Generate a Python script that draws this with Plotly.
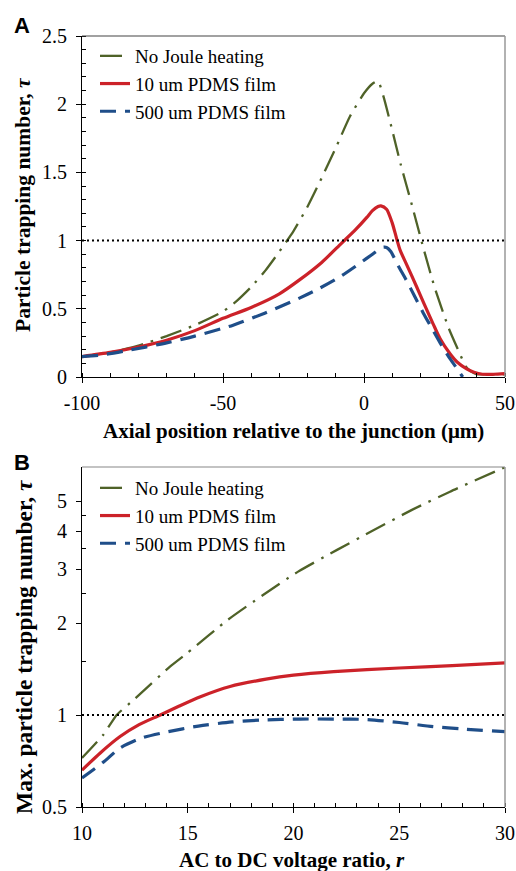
import plotly.graph_objects as go

# ---------------- Panel A data ----------------
a_green_x = [-100, -90, -80, -70, -60, -50, -45, -40, -35, -30, -25, -20, -15, -10, -5, 0, 3, 5, 7, 10, 13, 17, 21, 25, 30, 34, 36, 38, 40, 45, 50]
a_green_y = [0.15, 0.18, 0.23, 0.30, 0.38, 0.48, 0.56, 0.66, 0.78, 0.92, 1.07, 1.25, 1.46, 1.68, 1.91, 2.08, 2.15, 2.17, 2.05, 1.81, 1.56, 1.26, 0.95, 0.66, 0.36, 0.17, 0.08, 0.04, 0.02, 0.02, 0.02]

a_red_x = [-100, -90, -80, -70, -60, -50, -40, -30, -23, -15, -8, -3, 1, 3, 5, 6, 8, 10, 11.5, 12.8, 15, 18.7, 21, 24.5, 27, 30.5, 33, 36.4, 39, 42, 46, 50]
a_red_y = [0.15, 0.18, 0.22, 0.27, 0.34, 0.43, 0.51, 0.61, 0.71, 0.84, 0.98, 1.08, 1.17, 1.22, 1.25, 1.255, 1.23, 1.13, 1.02, 0.93, 0.83, 0.66, 0.55, 0.39, 0.28, 0.17, 0.11, 0.06, 0.035, 0.02, 0.02, 0.025]

a_blue_x = [-100, -93.6, -85, -70, -60, -46.4, -35, -22.7, -16.7, -8.5, -1.4, 3, 6.5, 8, 9.5, 12, 15, 18, 21, 24, 27, 30, 33.4, 35]
a_blue_y = [0.15, 0.16, 0.19, 0.25, 0.30, 0.38, 0.47, 0.58, 0.64, 0.735, 0.835, 0.90, 0.95, 0.95, 0.92, 0.82, 0.71, 0.59, 0.47, 0.36, 0.25, 0.15, 0.05, 0.0]

a_xticks = [-100, -50, 0, 50]
a_xticklabels = ["-100", "-50", "0", "50"]
a_yticks = [0, 0.5, 1, 1.5, 2, 2.5]
a_yticklabels = ["0", "0.5", "1", "1.5", "2", "2.5"]

# ---------------- Panel B data ----------------
b_green_x = [10, 11, 11.64, 12.5, 14.16, 15, 16.9, 18.56, 20.2, 22.06, 23.8, 25.6, 27.4, 30]
b_green_y = [0.723, 0.86, 1.0, 1.13, 1.44, 1.6, 2.05, 2.47, 2.94, 3.47, 4.03, 4.69, 5.38, 6.47]

b_red_x = [10, 10.85, 11.8, 12.7, 13.7, 14.6, 15.6, 17, 18.7, 20, 21.9, 25, 27.5, 30]
b_red_y = [0.66, 0.75, 0.85, 0.93, 1.0, 1.07, 1.148, 1.24, 1.31, 1.35, 1.386, 1.425, 1.45, 1.48]

b_blue_x = [10, 11, 11.8, 12.8, 14, 15.5, 17.1, 18.5, 20.3, 22, 23.4, 25, 26.6, 28, 30]
b_blue_y = [0.622, 0.70, 0.78, 0.84, 0.88, 0.92, 0.949, 0.963, 0.97, 0.97, 0.967, 0.945, 0.916, 0.90, 0.882]

b_xticks = [10, 15, 20, 25, 30]
b_yticks = [0.5, 1, 2, 3, 4, 5]
b_yticklabels = ["0.5", "1", "2", "3", "4", "5"]
b_yminor = [1.5, 2.5, 3.5, 4.5]

names = ["No Joule heating", "10 um PDMS film", "500 um PDMS film"]

GREEN = "#4f6228"
RED = "#cc2229"
BLUE = "#1f4e89"
SERIF = "Liberation Serif"

fig = go.Figure()

styles = [
    dict(color=GREEN, width=2.3, dash="22px,8px,2.5px,8px", shape="spline", smoothing=0.5),
    dict(color=RED, width=3.2, dash="solid", shape="spline", smoothing=0.7),
    dict(color=BLUE, width=3.2, dash="16px,9px", shape="spline", smoothing=0.7),
]

for (xs, ys), st, nm, g in zip([(a_green_x, a_green_y), (a_red_x, a_red_y), (a_blue_x, a_blue_y)], styles, names, ["a1", "a2", "a3"]):
    fig.add_trace(go.Scatter(x=xs, y=ys, mode="lines", name=nm, line=st,
                             xaxis="x", yaxis="y", legend="legend", legendgroup=g))

for (xs, ys), st, nm, g in zip([(b_green_x, b_green_y), (b_red_x, b_red_y), (b_blue_x, b_blue_y)], styles, names, ["b1", "b2", "b3"]):
    fig.add_trace(go.Scatter(x=xs, y=ys, mode="lines", name=nm, line=st,
                             xaxis="x2", yaxis="y2", legend="legend2", legendgroup=g))

# plot area pixel geometry: x 82..505, panel A y 36..377, panel B y 467..807
W, H = 516, 871
L, R, T, B = 82, 11, 36, 64
ph = H - T - B


def py(p):
    return (H - B - p) / ph


def px(p):
    return (p - L) / (W - L - R)


tickfont = dict(family=SERIF, size=20, color="black")
common_axis = dict(showline=True, linecolor="black", linewidth=1.2, showgrid=False, zeroline=False,
                   ticks="outside", ticklen=5, tickcolor="black", tickwidth=1.2, tickfont=tickfont,
                   automargin=False)

fig.update_layout(
    width=W, height=H,
    margin=dict(l=L, r=R, t=T, b=B, autoexpand=False),
    paper_bgcolor="white", plot_bgcolor="white",
    font=dict(family=SERIF, size=19, color="black"),
    xaxis=dict(common_axis, domain=[0, 1], anchor="y", range=[-100, 50], ticklabelstandoff=3,
               tickmode="array", tickvals=a_xticks, ticktext=a_xticklabels,
               minor=dict(dtick=10, tick0=0, ticks="inside", ticklen=4, tickcolor="black", tickwidth=1)),
    yaxis=dict(common_axis, domain=[py(377), 1], anchor="x", range=[0, 2.5], ticklabelstandoff=5,
               tickmode="array", tickvals=a_yticks, ticktext=a_yticklabels,
               minor=dict(dtick=0.1, tick0=0, ticks="inside", ticklen=4, tickcolor="black", tickwidth=1)),
    xaxis2=dict(common_axis, domain=[0, 1], anchor="y2", range=[10, 30], ticklabelstandoff=3,
                tickmode="array", tickvals=b_xticks,
                minor=dict(dtick=1, tick0=10, ticks="inside", ticklen=4, tickcolor="black", tickwidth=1)),
    yaxis2=dict(common_axis, domain=[0, py(467)], anchor="x2", type="log", ticklabelstandoff=5,
                range=[-0.30103, 0.8115],
                tickmode="array", tickvals=b_yticks, ticktext=b_yticklabels,
                minor=dict(tickmode="array", tickvals=b_yminor, ticks="inside", ticklen=4, tickcolor="black", tickwidth=1)),
    legend=dict(x=px(95), y=py(37), xanchor="left", yanchor="top", bgcolor="rgba(0,0,0,0)",
                font=dict(family=SERIF, size=19), traceorder="grouped", tracegroupgap=0, itemwidth=30),
    legend2=dict(x=px(95), y=py(469), xanchor="left", yanchor="top", bgcolor="rgba(0,0,0,0)",
                 font=dict(family=SERIF, size=19), traceorder="grouped", tracegroupgap=0, itemwidth=30),
    showlegend=True,
)

# reference line at tau = 1 and top/right frame lines
shapes = []
for xr, yr, top_col in [("x", "y", "#444444"), ("x2", "y2", "#888888")]:
    shapes.append(dict(type="line", xref=xr + " domain", yref=yr, x0=0, x1=1, y0=1, y1=1,
                       line=dict(color="black", width=2, dash="2px,3px")))
    shapes.append(dict(type="line", xref=xr + " domain", yref=yr + " domain", x0=0, x1=1, y0=1, y1=1,
                       line=dict(color=top_col, width=1.2)))
    shapes.append(dict(type="line", xref=xr + " domain", yref=yr + " domain", x0=1, x1=1, y0=0, y1=1,
                       line=dict(color="#999999", width=1.5)))
fig.update_layout(shapes=shapes)

ann = [
    dict(text="<b>A</b>", x=px(22), y=py(25), font=dict(family="Liberation Sans", size=22)),
    dict(text="<b>B</b>", x=px(22), y=py(462), font=dict(family="Liberation Sans", size=22)),
    dict(text="<b>Axial position relative to the junction (μm)</b>", x=px(293), y=py(431), font=dict(size=21)),
    dict(text="<b>AC to DC voltage ratio, <i>r</i></b>", x=px(292), y=py(860), font=dict(size=21)),
    dict(text="<b>Particle trapping number, <i>τ</i></b>", x=px(23), y=py(205), textangle=-90, font=dict(size=21.5)),
    dict(text="<b>Max. particle trapping number, <i>τ</i></b>", x=px(24), y=py(647), textangle=-90, font=dict(size=23.5)),
]
for a in ann:
    a.update(xref="paper", yref="paper", xanchor="center", yanchor="middle", showarrow=False)
    a["font"] = dict(dict(family=SERIF, color="black"), **a["font"])
fig.update_layout(annotations=ann)

fig.write_html("out.html")
